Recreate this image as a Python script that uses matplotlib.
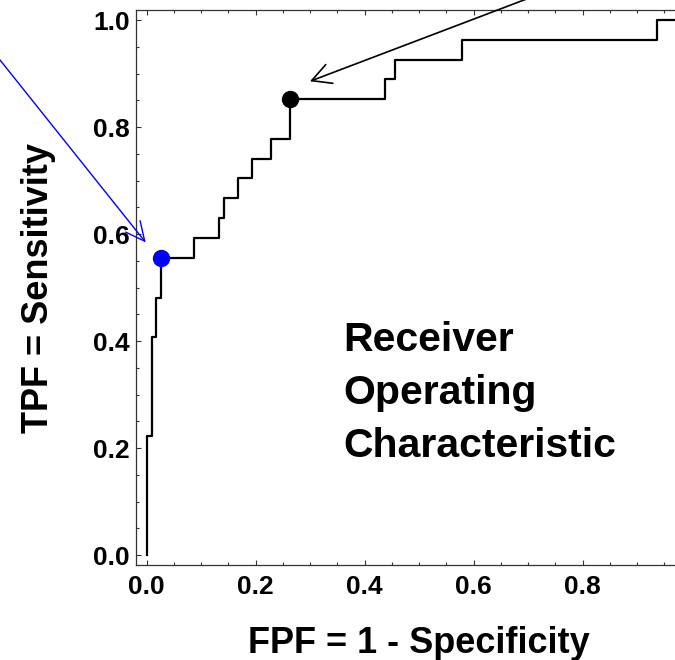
import matplotlib
matplotlib.use("Agg")
import matplotlib.pyplot as plt
from matplotlib.ticker import MultipleLocator, FormatStrFormatter

plt.rcParams['font.family'] = ['Liberation Sans', 'DejaVu Sans']
plt.rcParams['font.weight'] = 'bold'

# ROC curve corners (false positive fraction, true positive fraction)
fpf = [0.0, 0.0, 0.009, 0.018, 0.026, 0.087, 0.133, 0.142, 0.167, 0.194,
       0.229, 0.263, 0.437, 0.456, 0.578, 0.937, 1.0]
tpf = [0.0, 0.222, 0.407, 0.481, 0.556, 0.593, 0.630, 0.667, 0.704, 0.741,
       0.778, 0.852, 0.889, 0.926, 0.963, 1.0, 1.0]

# highlighted operating points
blue_pt = (0.026, 0.556)
black_pt = (0.263, 0.852)

tick_vals = [0.0, 0.2, 0.4, 0.6, 0.8, 1.0]

fig = plt.figure(figsize=(6.75, 6.6), dpi=100)
ax = fig.add_axes([0.2010, 0.1439, 0.8400, 0.8409])

ax.step(fpf, tpf, where='post', color='black', lw=1.6)
ax.plot(*blue_pt, 'o', color='blue', ms=11.5, zorder=5)
ax.plot(*black_pt, 'o', color='black', ms=11.5, zorder=5)

# arrows coming in from outside the frame
ax.annotate('', xy=(0.2996, 0.8855), xytext=(0.872, 1.107),
            annotation_clip=False,
            arrowprops=dict(arrowstyle='->,head_length=0.68,head_width=0.36',
                            mutation_scale=20, color='black', lw=1.2,
                            shrinkA=0, shrinkB=0))
ax.annotate('', xy=(-0.0018, 0.5843), xytext=(-0.323, 0.994),
            annotation_clip=False,
            arrowprops=dict(arrowstyle='->,head_length=0.68,head_width=0.33',
                            mutation_scale=20, color='blue', lw=1.0,
                            shrinkA=0, shrinkB=0))

# baseline of the last line
ax.text(0.3607, 0.184, 'Receiver\nOperating\nCharacteristic', fontsize=29.5,
        fontweight='bold', ha='left', va='baseline', linespacing=1.49)

ax.set_xlim(-0.0202, 1.0202)
ax.set_ylim(-0.0187, 1.0187)

ax.set_xticks(tick_vals[:-1])
ax.set_yticks(tick_vals)
ax.xaxis.set_minor_locator(MultipleLocator(0.05))
ax.yaxis.set_minor_locator(MultipleLocator(0.05))
ax.xaxis.set_major_formatter(FormatStrFormatter('%.1f'))
ax.yaxis.set_major_formatter(FormatStrFormatter('%.1f'))
ax.tick_params(which='both', direction='in', top=True, right=True,
               color='#333333', width=0.8)
ax.tick_params(which='major', length=3.8, labelsize=19)
ax.tick_params(which='minor', length=2.3)
ax.tick_params(axis='x', which='major', pad=7.5)
ax.tick_params(axis='y', which='major', pad=4)
for s in ax.spines.values():
    s.set_color('#333333')
    s.set_linewidth(0.9)

ax.set_xlabel('FPF = 1 - Specificity', fontsize=26, fontweight='bold', va='top')
ax.set_ylabel('TPF = Sensitivity', fontsize=26, fontweight='bold')
ax.xaxis.set_label_coords(0.5, -0.109)
ax.yaxis.set_label_coords(-0.1406, 0.5)

fig.savefig('out.png', dpi=100)
